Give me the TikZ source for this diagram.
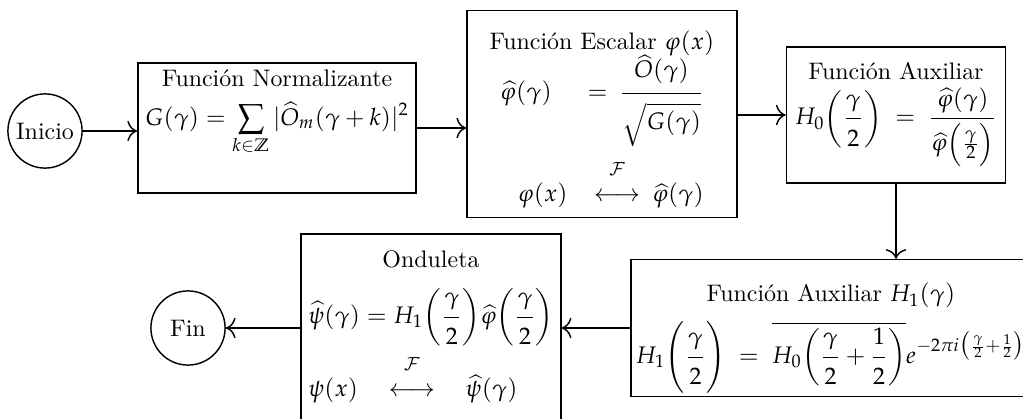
\documentclass[tikz,border=0pt]{standalone}
\usepackage{amsmath,amssymb}
\usepackage{mathpazo}
\renewcommand{\rmdefault}{lmr}
\usetikzlibrary{positioning,arrows.meta}

% fraccion alta
\newcommand{\fa}[2]{\dfrac{#1\rule[-4pt]{0pt}{4pt}}{\rule{0pt}{10pt}#2}}
% transformada de Fourier
\newcommand{\ftr}{\overset{\raisebox{5pt}{$\scriptstyle\mathcal{F}$}}{\longleftrightarrow}}

\begin{document}
\begin{tikzpicture}[x=0.0147cm, y=0.0147cm, line width=0.6pt, >={To[scale=1.4]},
    caja/.style={draw, align=center, inner sep=3pt},
    circulo/.style={draw, circle, inner sep=0pt, minimum size=1.09cm}]
    \useasboundingbox (0,0) rectangle (1023,418);

    % Inicio y Fin
    \node[circulo] (ini) at (45,287) {Inicio};
    \node[circulo] (fin) at (188,90) {Fin};

    % Funcion normalizante
    \node[caja, minimum width=4.09cm, minimum height=1.90cm] (norm) at (277,290)
        {Función Normalizante\\[4pt]
         $\displaystyle G(\gamma) = \sum_{k\in\mathbb{Z}} |\widehat{O}_m(\gamma+k)|^2$\\[12pt]};

    % Funcion escalar
    \node[caja, minimum width=3.97cm, minimum height=3.04cm] (esc) at (602,304)
        {\rule{0pt}{13pt}Función Escalar $\varphi(x)$\\[-1.3pt]
         $\displaystyle\begin{array}{@{}r@{}}
           \widehat{\varphi}(\gamma)\hspace{15pt}{=}\hspace{5pt}
             \dfrac{\widehat{O}(\gamma)\rule[-5pt]{0pt}{5pt}}{\rule{0pt}{14pt}\sqrt{\rule[-5pt]{0pt}{5pt}G(\gamma)}}\\[22pt]
           \varphi(x)\hspace{11pt}{\ftr}\hspace{5pt}\widehat{\varphi}(\gamma)
         \end{array}$};

    % Funcion auxiliar H0
    \node[caja, minimum width=3.22cm, minimum height=2.00cm] (aux) at (896,303)
        {Función Auxiliar\\[2pt]
         $\displaystyle H_0\biggl(\fa{\gamma}{2}\biggr) \;=\; \dfrac{\widehat{\varphi}(\gamma)\rule[-4pt]{0pt}{4pt}}{\widehat{\varphi}\Bigl(\frac{\gamma}{2}\Bigr)}$};

    % Funcion auxiliar H1
    \node[caja, inner sep=2pt, minimum height=2.01cm] (hu) at (831,90)
        {Función Auxiliar $H_1(\gamma)$\\[4pt]
         $\displaystyle H_1\Biggl(\fa{\gamma}{2}\Biggr) \;=\; \overline{H_0\biggl(\fa{\gamma}{2}+\fa{1}{2}\biggr)}e^{-2\pi i\bigl(\frac{\gamma}{2}+\frac{1}{2}\bigr)}$\\[-10pt]};

    % Onduleta
    \node[caja, minimum height=2.76cm] (ond) at (431,90)
        {Onduleta\\[7pt]
         $\displaystyle\begin{array}{@{}l@{}}
           \widehat{\psi}(\gamma) = H_1\biggl(\fa{\gamma}{2}\biggr)\widehat{\varphi}\biggl(\fa{\gamma}{2}\biggr)\\[10pt]
           \psi(x) \quad \ftr \quad \widehat{\psi}(\gamma)
         \end{array}$};

    % Flechas
    \draw[->] (ini.east) -- (ini.east -| norm.west);
    \draw[->] (norm.east) -- (norm.east -| esc.west);
    \draw[->] (aux.west -| esc.east) -- (aux.west);
    \draw[->] (aux.south) -- (aux.south |- hu.north);
    \draw[->] (hu.west) -- (hu.west -| ond.east);
    \draw[->] (ond.west) -- (fin.east);
\end{tikzpicture}
\end{document}
